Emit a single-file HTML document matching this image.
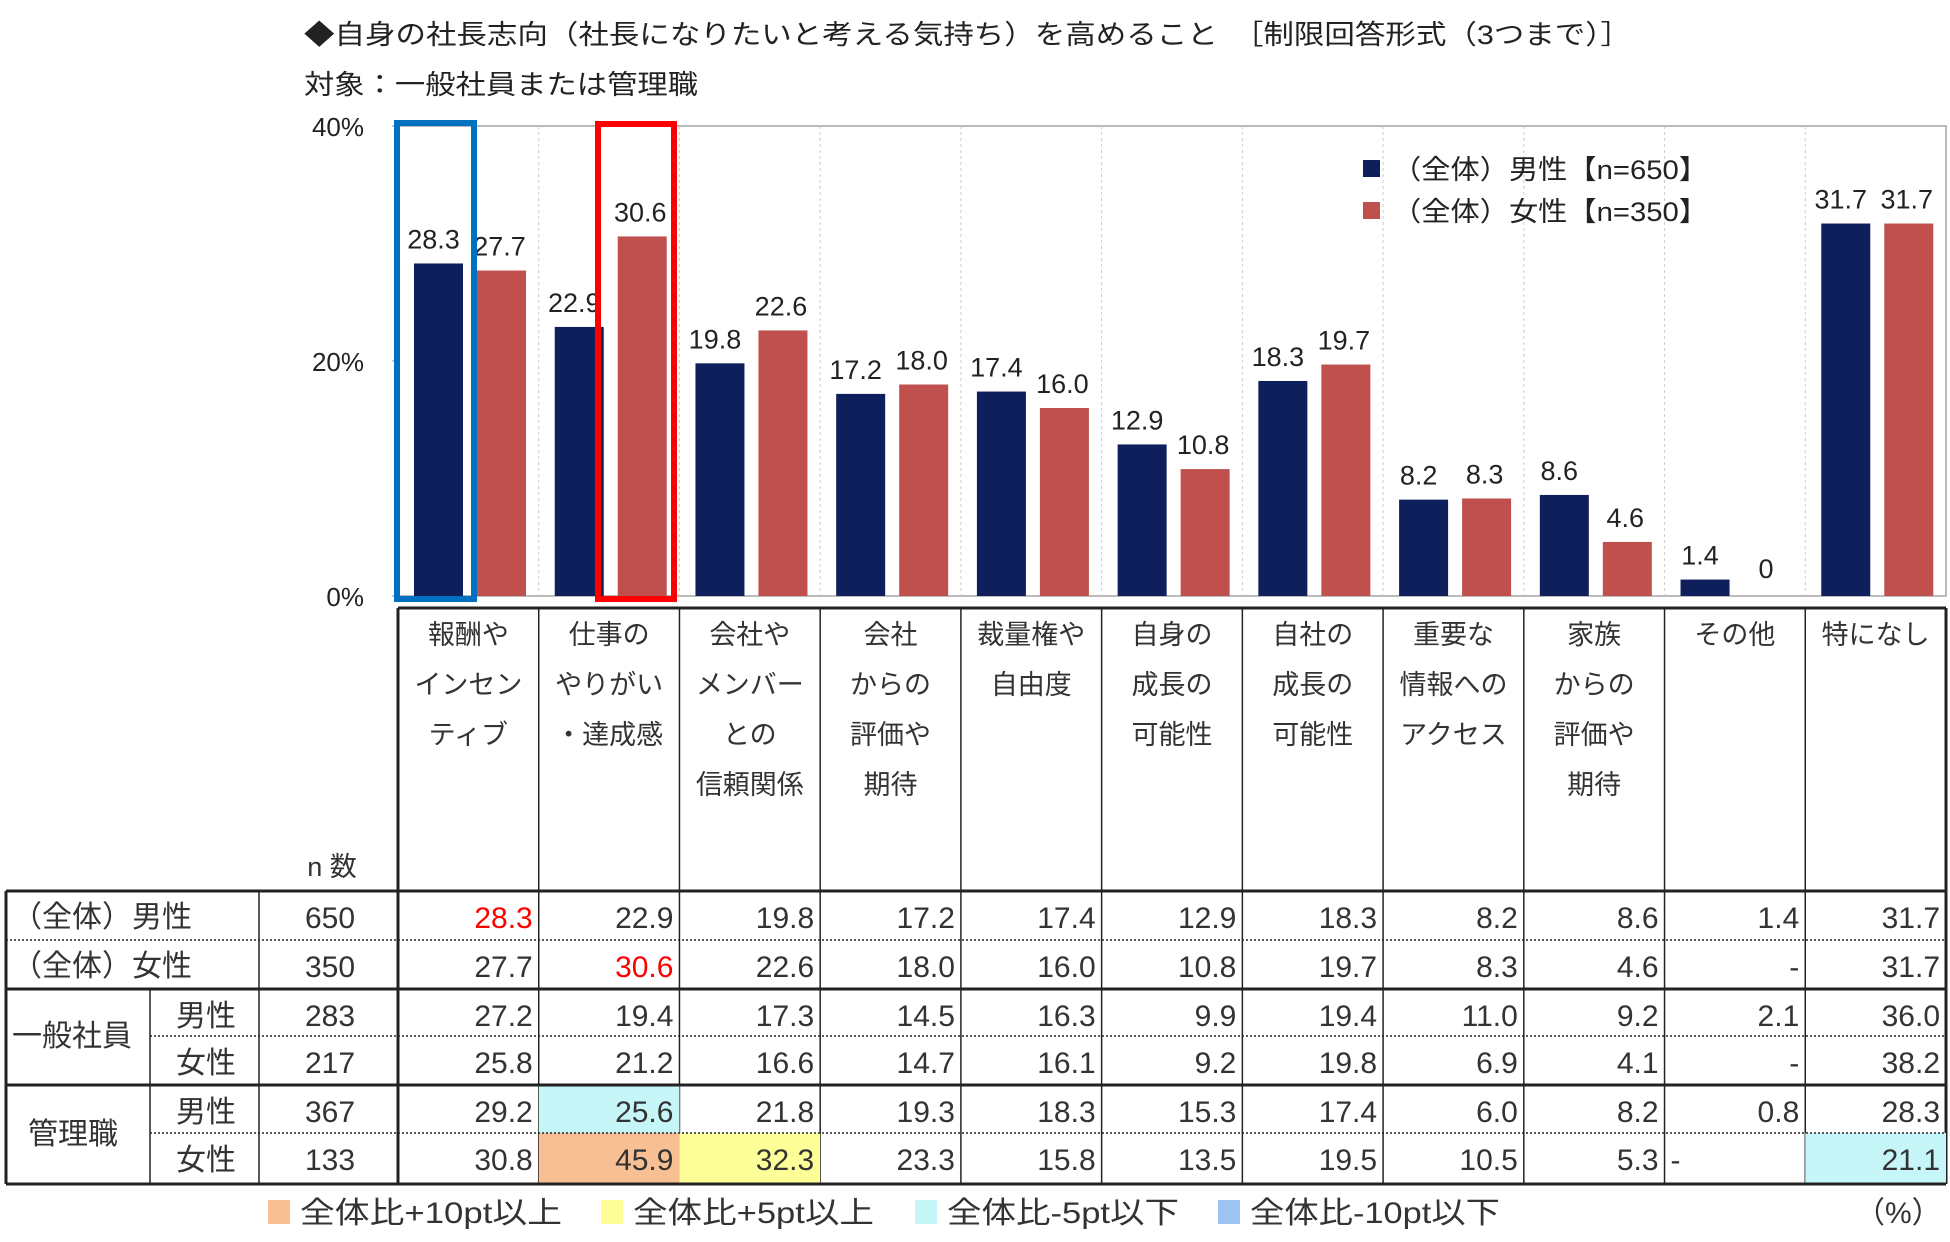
<!DOCTYPE html>
<html><head><meta charset="utf-8">
<style>
html,body{margin:0;padding:0;background:#fff;}
svg{display:block;font-family:"Liberation Sans","Noto Sans CJK JP",sans-serif;}
</style></head>
<body>
<svg id="c" width="1950" height="1242" viewBox="0 0 1950 1242"></svg>
<script>
const categories=[["報酬や","インセン","ティブ"],["仕事の","やりがい","・達成感"],["会社や","メンバー","との","信頼関係"],["会社","からの","評価や","期待"],["裁量権や","自由度"],["自身の","成長の","可能性"],["自社の","成長の","可能性"],["重要な","情報への","アクセス"],["家族","からの","評価や","期待"],["その他"],["特になし"]];
const maleValues=[28.3,22.9,19.8,17.2,17.4,12.9,18.3,8.2,8.6,1.4,31.7];
const femaleValues=[27.7,30.6,22.6,18.0,16.0,10.8,19.7,8.3,4.6,0,31.7];
const yTicks=[0,20,40];
const rowLabels=[["（全体）男性","650"],["（全体）女性","350"],["男性","283"],["女性","217"],["男性","367"],["女性","133"]];
const tableValues=[
["28.3","22.9","19.8","17.2","17.4","12.9","18.3","8.2","8.6","1.4","31.7"],
["27.7","30.6","22.6","18.0","16.0","10.8","19.7","8.3","4.6","-","31.7"],
["27.2","19.4","17.3","14.5","16.3","9.9","19.4","11.0","9.2","2.1","36.0"],
["25.8","21.2","16.6","14.7","16.1","9.2","19.8","6.9","4.1","-","38.2"],
["29.2","25.6","21.8","19.3","18.3","15.3","17.4","6.0","8.2","0.8","28.3"],
["30.8","45.9","32.3","23.3","15.8","13.5","19.5","10.5","5.3","-","21.1"]];
const cellColors={"0,0":"red-text","1,1":"red-text","4,1":"#c6f6f8","5,1":"#f9bf94","5,2":"#ffff99","5,10":"#c6f6f8"};

const svg=document.getElementById('c');
const NS='http://www.w3.org/2000/svg';
function mk(tag,attrs,parent){const e=document.createElementNS(NS,tag);for(const k in attrs)e.setAttribute(k,attrs[k]);(parent||svg).appendChild(e);return e;}
function txt(s,x,y,size,anchor,fill,parent){const t=mk('text',{x:x,y:y,'font-size':size,'text-anchor':anchor||'start',fill:fill||'#222'},parent);t.textContent=s;return t;}
function fit(t,w){t.setAttribute('textLength',w);t.setAttribute('lengthAdjust','spacingAndGlyphs');}

const X0=398,X1=1946,YT=126,YB=596,CW=(X1-X0)/11;
const y=v=>YB-(v/40)*(YB-YT);
const cx=i=>X0+i*CW;

let t=txt("◆自身の社長志向（社長になりたいと考える気持ち）を高めること　［制限回答形式（3つまで）］",304,44,27);
fit(t,1327);

t=txt("対象：一般社員または管理職",304,94,27);
fit(t,394);


let r=mk('rect',{x:X0,y:YT,width:X1-X0,height:YB-YT,fill:'none',stroke:'#bbb','stroke-width':2});

for(let i=1;i<11;i++){let l=mk('line',{x1:cx(i),x2:cx(i),y1:YT,y2:YB,stroke:'#ccc','stroke-dasharray':'3,3'});}
yTicks.forEach(v=>{let tk=txt(v+"%",364,y(v)+10,26,'end','#222');
mk('line',{x1:X0-6,x2:X0,y1:y(v),y2:y(v),stroke:'#999'});});

const BW=49;
categories.forEach((c,i)=>{
 const mx=cx(i)+16, fx=cx(i)+79;
 let b=mk('rect',{x:mx,y:y(maleValues[i]),width:BW,height:YB-y(maleValues[i]),fill:'#0e1f5b'});
 
 b=mk('rect',{x:fx,y:y(femaleValues[i]),width:BW,height:YB-y(femaleValues[i]),fill:'#c0504d'});
 
 let l=txt(maleValues[i].toFixed(1),mx+BW/2-5,y(maleValues[i])-15,27,'middle');
 
 const fv=femaleValues[i]===0?"0":femaleValues[i].toFixed(1);
 l=txt(fv,fx+BW/2-2,y(femaleValues[i])-15-(femaleValues[i]===0?3:0),27,'middle');
 
});
r=mk('rect',{x:397,y:123,width:77,height:476,fill:'none',stroke:'#0070c0','stroke-width':6});

r=mk('rect',{x:598,y:124,width:76,height:475,fill:'none',stroke:'#ff0000','stroke-width':6});


let lg=mk('g',{});
mk('rect',{x:1363,y:160,width:17,height:17,fill:'#0e1f5b'},lg);
fit(txt("（全体）男性【n=650】",1392,179,27,'start','#222',lg),316);
mk('rect',{x:1363,y:202,width:17,height:17,fill:'#c0504d'},lg);
fit(txt("（全体）女性【n=350】",1392,221,27,'start','#222',lg),316);

const rowY=[891,940,989,1036,1085,1133,1184];
let tb=mk('g',{});
mk('line',{x1:X0,x2:X1,y1:608,y2:608,stroke:'#222','stroke-width':3},tb);
for(let i=0;i<=11;i++){mk('line',{x1:cx(i),x2:cx(i),y1:608,y2:rowY[6],stroke:'#222','stroke-width':i==0||i==11?3:1.5},tb);}
categories.forEach((c,i)=>{c.forEach((s,k)=>{let h=txt(s,cx(i)+CW/2,644+k*50,27,'middle','#333',tb);});});
txt("n 数",332,876,27,'middle','#333',tb);
for(let rI=0;rI<6;rI++)for(let cI=0;cI<11;cI++){const k=rI+','+cI;const v=cellColors[k];
 if(v&&v!=='red-text'){mk('rect',{x:cx(cI),y:rowY[rI],width:CW,height:rowY[rI+1]-rowY[rI],fill:v},tb);} }
rowY.forEach((yy,k)=>{const solid=(k===0||k===2||k===4||k===6);
 const x1=(k===3||k===5)?150:6;
 mk('line',{x1:x1,x2:X1,y1:yy,y2:yy,stroke:'#222','stroke-width':solid?3:1.5,'stroke-dasharray':solid?'':'2,2'},tb);});
mk('line',{x1:6,x2:6,y1:rowY[0],y2:rowY[6],stroke:'#222','stroke-width':3},tb);
mk('line',{x1:259,x2:259,y1:rowY[0],y2:rowY[6],stroke:'#222','stroke-width':1.5},tb);
mk('line',{x1:150,x2:150,y1:rowY[2],y2:rowY[6],stroke:'#222','stroke-width':1.5},tb);
txt("（全体）男性",12,927,30,'start','#333',tb);
txt("（全体）女性",12,976,30,'start','#333',tb);
txt("一般社員",12,1046,30,'start','#333',tb);
txt("管理職",28,1144,30,'start','#333',tb);
[2,3,4,5].forEach(k=>txt(rowLabels[k][0],206,rowY[k]+37,30,'middle','#333',tb));
rowLabels.forEach((rl,k)=>txt(rl[1],330,rowY[k]+37,30,'middle','#333',tb));
tableValues.forEach((row,rI)=>row.forEach((v,cI)=>{
 const red=cellColors[rI+','+cI]==='red-text';
 const dashLeft=(rI===5&&cI===9);
 let c=txt(v,dashLeft?cx(cI)+6:cx(cI)+CW-6,rowY[rI]+37,30,dashLeft?'start':'end',red?'#ff0000':'#333',tb);
 
}));
let bl=mk('g',{});
[["#f9bf94","全体比+10pt以上",268,262],["#ffff99","全体比+5pt以上",601,241],["#c6f6f8","全体比-5pt以下",915,232],["#9dc3f3","全体比-10pt以下",1218,250]].forEach(a=>{
 mk('rect',{x:a[2],y:1200,width:22,height:24,fill:a[0]},bl);fit(txt(a[1],a[2]+32,1223,30,'start','#333',bl),a[3]);});
txt("（%）",1855,1223,30,'start','#333',bl);
</script>
</body></html>
